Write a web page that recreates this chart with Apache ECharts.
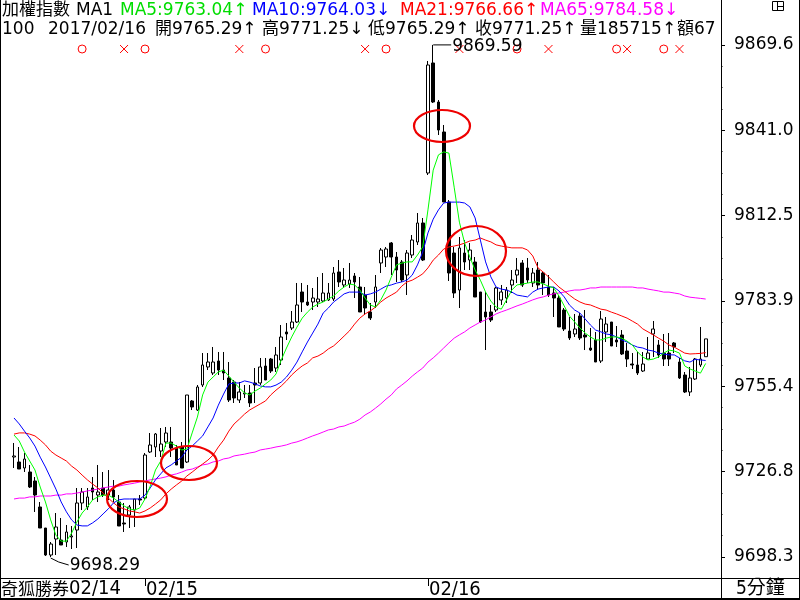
<!DOCTYPE html>
<html><head><meta charset="utf-8">
<script src="https://cdn.jsdelivr.net/npm/echarts@6/dist/echarts.min.js"></script>
<style>html,body{margin:0;padding:0;background:#fff}#c{width:800px;height:600px}</style>
</head><body><div id="c"></div>
<script>
// ---------------- data ----------------
const dayLabels = ['02/14', '02/15', '02/16'];
const dayBarCounts = [25, 54, 54];

const opens = [9731.74,9730.07,9728.06,9726.73,9723.72,9715.02,9707.99,9698.96,9704.31,9703.98,
9703.31,9704.98,9707.32,9716.36,9715.02,9721.37,9719.03,9721.37,9719.03,9720.70,
9716.69,9709.67,9712.34,9714.01,9717.69,9718.03,9733.42,9735.09,9733.75,9736.76,
9736.76,9734.75,9735.09,9730.07,9750.48,9747.46,9755.83,9761.85,9759.84,9763.86,
9760.84,9758.17,9756.83,9750.81,9752.82,9753.15,9756.50,9756.50,9762.18,9764.52,
9761.51,9764.19,9773.56,9774.89,9776.90,9786.94,9783.59,9783.59,9783.59,9783.93,
9784.26,9784.59,9793.63,9789.28,9789.61,9792.29,9788.61,9785.93,9780.25,9783.59,
9796.64,9798.64,9803.33,9798.64,9796.97,9792.62,9799.31,9803.66,9810.02,9826.74,
9863.54,9850.49,9840.46,9817.04,9799.98,9787.60,9799.98,9797.64,9796.97,9786.94,
9780.25,9780.25,9780.91,9784.26,9784.93,9789.28,9792.62,9796.64,9794.96,9789.95,
9794.29,9793.29,9788.61,9786.60,9784.93,9780.91,9773.89,9772.89,9778.91,9772.55,
9768.20,9770.88,9763.86,9773.56,9776.90,9770.88,9772.55,9767.20,9762.85,9762.52,
9760.51,9764.52,9772.89,9769.21,9766.53,9766.53,9769.88,9763.52,9759.17,9753.49,
9757.83,9762.52,9765.29];
const highs = [9736.43,9735.09,9733.08,9729.07,9725.05,9716.69,9707.99,9703.31,9713.01,9711.34,
9709.00,9708.66,9721.37,9721.37,9721.37,9725.05,9729.07,9726.73,9727.39,9724.05,
9719.03,9716.36,9715.69,9717.69,9719.03,9733.08,9739.77,9739.77,9741.44,9741.78,
9741.78,9735.76,9736.76,9752.48,9750.81,9755.83,9766.53,9766.53,9768.54,9766.87,
9766.87,9763.52,9757.50,9756.83,9755.83,9755.83,9761.51,9764.86,9764.86,9764.86,
9768.54,9775.90,9776.57,9780.58,9789.95,9789.95,9789.28,9788.27,9791.95,9793.29,
9789.95,9795.30,9797.64,9794.96,9796.64,9793.29,9791.95,9788.61,9783.26,9792.62,
9801.65,9801.99,9803.66,9800.32,9797.64,9800.98,9806.00,9813.36,9811.69,9864.21,
9869.59,9851.16,9842.80,9817.71,9801.99,9805.33,9804.33,9803.33,9798.64,9786.94,
9786.94,9782.59,9788.61,9789.28,9788.61,9794.29,9798.31,9797.64,9798.31,9794.96,
9796.97,9793.63,9792.62,9788.61,9785.93,9781.58,9778.57,9779.58,9779.91,9780.91,
9774.89,9773.56,9780.58,9778.57,9776.90,9775.56,9774.22,9769.88,9766.53,9766.87,
9766.87,9771.88,9777.24,9770.88,9772.89,9773.22,9770.21,9764.86,9760.18,9761.85,
9764.86,9775.23,9771.25];
const lows = [9728.06,9727.73,9726.73,9721.37,9713.35,9707.99,9698.63,9698.29,9698.96,9702.31,
9701.64,9700.97,9701.30,9714.01,9714.01,9717.36,9716.69,9718.36,9717.36,9716.69,
9708.66,9706.66,9707.99,9708.33,9715.69,9717.36,9733.08,9731.74,9731.74,9735.09,
9731.74,9729.07,9728.06,9729.74,9747.46,9747.13,9755.16,9760.84,9759.17,9759.17,
9757.50,9750.14,9749.81,9749.81,9751.48,9748.47,9749.81,9755.83,9757.50,9759.84,
9760.18,9762.52,9770.88,9774.22,9776.57,9780.25,9782.25,9780.91,9781.92,9783.59,
9783.93,9783.93,9788.61,9788.27,9788.27,9784.93,9780.25,9779.24,9777.57,9781.58,
9793.29,9795.30,9792.62,9790.28,9790.28,9785.93,9798.31,9802.66,9797.30,9826.07,
9850.16,9839.45,9817.04,9790.62,9784.93,9781.58,9794.29,9794.29,9785.26,9776.57,
9767.53,9776.90,9780.25,9782.59,9783.26,9786.60,9789.95,9788.61,9789.95,9788.61,
9787.60,9785.93,9785.26,9778.57,9775.23,9773.89,9770.88,9771.88,9770.88,9767.53,
9767.20,9763.52,9763.19,9770.21,9768.87,9768.54,9765.86,9761.85,9761.18,9759.17,
9760.18,9764.19,9765.19,9764.86,9762.18,9762.18,9766.53,9757.83,9753.15,9752.15,
9757.50,9761.85,9765.29];
const closes = [9732.08,9727.73,9731.07,9721.71,9719.03,9707.99,9698.96,9702.64,9708.33,9702.31,
9706.66,9705.32,9716.36,9720.04,9718.36,9720.04,9720.04,9719.03,9720.70,9718.36,
9708.66,9709.33,9715.02,9717.69,9717.36,9732.41,9735.76,9739.44,9736.09,9739.77,
9734.75,9729.07,9728.06,9752.48,9748.47,9755.16,9762.52,9763.52,9763.52,9760.84,
9759.84,9750.81,9751.48,9753.49,9753.15,9749.81,9755.83,9761.85,9757.50,9760.51,
9765.86,9771.88,9772.89,9776.90,9782.59,9783.59,9782.59,9784.93,9784.59,9786.60,
9786.60,9793.29,9790.28,9790.95,9790.95,9790.28,9780.25,9781.58,9778.24,9788.61,
9800.98,9801.32,9798.64,9794.29,9790.95,9799.98,9804.33,9810.02,9797.64,9862.87,
9850.49,9841.12,9817.04,9793.29,9786.60,9801.65,9796.97,9800.98,9785.26,9776.90,
9778.57,9777.57,9788.27,9786.94,9787.60,9790.95,9794.29,9789.28,9790.95,9793.29,
9789.28,9789.95,9785.93,9784.93,9775.23,9774.56,9771.55,9774.56,9771.55,9771.88,
9767.53,9763.52,9777.90,9776.23,9768.87,9770.21,9766.20,9764.52,9762.52,9759.84,
9762.85,9766.53,9774.56,9765.86,9764.52,9764.52,9768.54,9758.17,9753.49,9758.17,
9764.52,9764.52,9771.25];

const ma5 = [9739.1,9737.1,9733.4,9730.4,9727.4,9721.7,9716.7,9710.7,9705.6,9703.6,
9703.6,9706.3,9710.0,9713.0,9715.0,9717.4,9718.4,9719.0,9719.0,9718.0,
9716.7,9715.4,9714.4,9714.0,9714.7,9717.7,9722.0,9727.4,9730.4,9736.4,
9736.4,9735.4,9734.1,9734.4,9739.8,9745.1,9752.5,9756.8,9758.5,9760.2,
9760.8,9758.8,9756.8,9754.8,9753.2,9752.5,9753.8,9754.8,9756.2,9757.5,
9759.5,9764.2,9768.2,9771.9,9775.2,9778.2,9780.2,9781.9,9782.9,9783.6,
9784.6,9785.6,9787.3,9788.6,9789.6,9789.3,9787.6,9784.9,9782.6,9781.9,
9784.3,9787.6,9791.9,9796.0,9796.6,9797.0,9797.0,9799.3,9802.0,9814.4,
9827.7,9832.8,9833.8,9833.4,9822.0,9810.3,9803.3,9798.6,9794.3,9790.9,
9786.9,9783.9,9781.9,9781.2,9784.3,9787.6,9789.3,9789.6,9789.9,9790.3,
9790.3,9789.6,9788.9,9788.3,9785.6,9782.3,9778.9,9776.9,9774.9,9773.2,
9771.9,9770.9,9770.9,9771.5,9771.9,9771.9,9771.5,9770.5,9769.2,9766.9,
9765.2,9764.2,9764.5,9765.2,9766.5,9767.5,9767.2,9766.5,9762.2,9761.2,
9760.5,9759.8,9763.04];
const ma10 = [9744.8,9742.8,9740.4,9738.1,9735.4,9731.7,9728.4,9724.7,9721.0,9716.7,
9713.4,9710.7,9709.0,9708.7,9708.7,9709.7,9711.0,9712.7,9714.4,9716.4,
9717.4,9717.7,9717.7,9717.7,9717.7,9719.0,9721.4,9724.1,9726.1,9728.1,
9729.1,9730.4,9731.7,9734.1,9735.4,9737.1,9738.8,9741.8,9744.8,9749.1,
9752.8,9756.2,9756.5,9756.5,9757.2,9756.8,9756.2,9755.5,9755.2,9755.2,
9755.8,9756.8,9758.5,9760.8,9763.5,9766.9,9770.2,9773.2,9776.2,9779.9,
9781.6,9783.6,9784.9,9786.3,9786.9,9786.9,9786.9,9785.9,9786.3,9786.9,
9787.9,9788.9,9789.3,9789.9,9790.3,9790.9,9792.6,9796.0,9800.3,9806.7,
9811.3,9814.4,9816.7,9817.0,9817.0,9817.0,9816.7,9815.4,9811.7,9804.3,
9797.0,9792.0,9788.6,9787.9,9787.6,9786.9,9785.9,9785.6,9785.3,9786.9,
9787.9,9788.3,9788.6,9788.6,9787.3,9785.3,9782.6,9780.9,9779.9,9777.9,
9775.9,9774.2,9773.6,9772.9,9772.6,9771.9,9770.9,9770.2,9769.2,9768.5,
9768.2,9767.5,9767.2,9766.5,9766.2,9765.9,9765.9,9764.9,9763.9,9763.5,
9764.4,9764.2,9764.03];
const ma21 = [9739.4,9739.8,9739.8,9739.4,9738.8,9737.4,9735.8,9733.7,9732.4,9731.4,
9730.4,9728.7,9727.4,9725.7,9724.1,9722.7,9721.4,9719.7,9718.0,9716.4,
9715.0,9714.4,9713.7,9713.4,9713.0,9713.7,9714.7,9716.0,9717.4,9719.4,
9721.0,9722.4,9723.7,9725.4,9726.7,9728.1,9729.4,9730.7,9732.4,9735.1,
9737.4,9740.4,9742.8,9744.4,9746.1,9747.5,9748.5,9749.5,9750.5,9752.5,
9754.1,9755.5,9757.2,9759.2,9760.8,9762.2,9763.2,9764.9,9765.5,9766.5,
9767.9,9768.9,9770.5,9772.2,9773.9,9776.2,9778.2,9779.6,9780.6,9781.9,
9783.6,9784.9,9785.9,9786.9,9788.9,9790.3,9790.9,9791.9,9793.0,9795.0,
9797.6,9799.3,9801.3,9802.0,9802.3,9802.7,9803.3,9804.0,9804.3,9805.0,
9804.3,9803.7,9802.7,9802.3,9802.0,9801.7,9801.7,9801.7,9801.0,9799.0,
9795.0,9793.6,9792.0,9790.3,9788.6,9787.3,9785.9,9784.6,9783.6,9782.9,
9782.6,9781.9,9781.2,9780.9,9780.2,9779.6,9778.9,9778.2,9777.2,9776.2,
9774.6,9773.6,9772.6,9771.5,9770.5,9769.2,9768.5,9767.5,9766.5,9766.2,
9766.3,9766.4,9766.66];
const ma65 = [9717.7,9718.0,9718.0,9718.4,9718.4,9718.7,9718.7,9718.7,9719.0,9719.0,
9719.4,9719.4,9719.7,9720.0,9720.4,9720.7,9721.0,9721.4,9721.7,9722.0,
9722.0,9722.4,9722.7,9723.0,9723.4,9723.7,9724.1,9724.4,9724.7,9725.1,
9725.7,9726.1,9726.7,9727.4,9727.7,9728.4,9729.1,9729.4,9730.1,9730.4,
9731.1,9731.4,9732.1,9732.4,9732.7,9733.1,9733.4,9734.1,9734.4,9734.7,
9735.1,9735.4,9735.8,9736.4,9736.8,9737.4,9738.1,9738.8,9739.4,9740.1,
9740.8,9741.1,9741.8,9742.1,9742.8,9743.4,9744.4,9745.8,9746.8,9748.1,
9749.5,9751.1,9752.5,9754.5,9755.8,9757.2,9758.8,9760.2,9761.5,9763.5,
9764.9,9766.5,9768.2,9769.9,9771.5,9772.6,9773.6,9774.9,9775.9,9776.9,
9777.6,9778.6,9779.6,9780.3,9780.9,9781.6,9782.3,9782.9,9783.6,9784.3,
9784.9,9785.3,9785.9,9786.3,9786.6,9786.9,9787.3,9787.6,9787.6,9787.9,
9788.3,9788.3,9788.6,9788.6,9788.6,9788.6,9788.6,9788.6,9788.6,9788.3,
9788.3,9787.9,9787.6,9787.3,9786.9,9786.9,9786.6,9786.3,9785.6,9785.2,
9785.0,9784.8,9784.58];

const yTickValues = [9698.29, 9726.84, 9755.39, 9783.94, 9812.49, 9841.04, 9869.59];
const signalCircle = [13, 25, 48, 71, 96, 115, 124];
const signalCross = [21, 43, 67, 85, 102, 117, 127];
const headerTitle = '加權指數';
const headerPeriod = 'MA1';
const headerCount = '100';
const headerDate = '2017/02/16';
const headerVolume = '185715';
const headerAmount = '67';
const brokerLabel = '奇狐勝券';
const periodLabel = '5分鐘';

// ---------------- build ----------------
const categories = [];
const dayStarts = [];
dayLabels.forEach((d, k) => {
  dayStarts.push(categories.length);
  for (let j = 0; j < dayBarCounts[k]; j++) categories.push(d + '#' + (j + 1));
});
const N = categories.length;
const candle = opens.map((o, i) => [o, closes[i], lows[i], highs[i]]);

const BW = 5.24, LEFT = 11.38, AXIS_X = 721, PLOT_BOTTOM = 578;
const TOP_VAL = 9884.61, BOT_VAL = 9691.27;
const gridWidth = N * BW;
const yOff = AXIS_X - (LEFT + gridWidth);

const minor = [];
for (let k = 0; k < yTickValues.length - 1; k++) {
  const s = (yTickValues[k + 1] - yTickValues[k]) / 4;
  for (let m = 1; m < 4; m++) minor.push(yTickValues[k] + s * m);
}

const FONT = '"DejaVu Sans", "Noto Sans CJK TC", sans-serif';
const GREEN = '#00ff00', BLUE = '#0000ff', RED = '#ff0000', MAG = '#ff00ff';

const chart = echarts.init(document.getElementById('c'), null, {renderer: 'canvas'});
const labelIdx = (i) => i === dayStarts[1] || i === dayStarts[2];

chart.setOption({
  animation: false,
  backgroundColor: '#fff',
  grid: {left: LEFT, top: 0, width: gridWidth, height: PLOT_BOTTOM, outerBoundsMode: 'none', containLabel: false},
  xAxis: {
    type: 'category', data: categories, boundaryGap: true,
    axisLine: {show: false},
    axisTick: {show: true, alignWithLabel: true, interval: (i) => labelIdx(i), length: 8, lineStyle: {color: '#000', width: 1}},
    axisLabel: {
      interval: (i) => labelIdx(i), formatter: (v) => v.split('#')[0],
      align: 'left', margin: 2, padding: [0, 0, 0, 1],
      color: '#000', fontSize: 20, fontFamily: '"DejaVu Sans Condensed", "DejaVu Sans"'
    },
    splitLine: {show: false}
  },
  yAxis: [{
    type: 'value', position: 'right', offset: yOff, min: BOT_VAL, max: TOP_VAL, scale: true,
    axisLine: {show: false}, splitLine: {show: false},
    axisTick: {show: true, customValues: yTickValues, length: 4, lineStyle: {color: '#000'}},
    axisLabel: {customValues: yTickValues, formatter: (v) => v.toFixed(1), margin: 13,
      color: '#000', fontSize: 17, fontFamily: '"DejaVu Sans"'}
  }, {
    type: 'value', position: 'right', offset: yOff, min: BOT_VAL, max: TOP_VAL, scale: true,
    axisLine: {show: false}, splitLine: {show: false},
    axisTick: {show: true, customValues: minor, length: 1.5, lineStyle: {color: '#000'}},
    axisLabel: {show: false}
  }],
  series: [
    {type: 'candlestick', data: candle, barWidth: 3.2,
      itemStyle: {color: '#fff', color0: '#000', borderColor: '#000', borderColor0: '#000', borderColorDoji: '#000', borderWidth: 1}},
    {type: 'line', data: ma65, showSymbol: false, symbol: 'none', lineStyle: {color: MAG, width: 1}},
    {type: 'line', data: ma21, showSymbol: false, symbol: 'none', lineStyle: {color: RED, width: 1}},
    {type: 'line', data: ma10, showSymbol: false, symbol: 'none', lineStyle: {color: BLUE, width: 1}},
    {type: 'line', data: ma5, showSymbol: false, symbol: 'none', lineStyle: {color: GREEN, width: 1}}
  ]
});

// ---------------- annotations ----------------
const px = (i, v) => chart.convertToPixel({seriesIndex: 0}, [i, v]);
const L = N - 1;
const arr = (a) => a[L] >= a[L - 1] ? '↑' : '↓';
const f2 = (v) => v.toFixed(2);
const g = [];
const txt = (t, x, y, color, font, extra) => g.push(Object.assign({type: 'text', x, y, z: 100,
  style: {text: t, fill: color, font: font || ('17px ' + FONT), verticalAlign: 'middle', align: 'left'}}, extra || {}));
const line = (pts, color, w) => g.push({type: 'polyline', z: 90, shape: {points: pts}, style: {stroke: color, lineWidth: w || 1, fill: null}});

// header
txt(headerTitle, 2, 11, '#000');
txt(headerPeriod, 76, 11, '#000');
txt('MA5:' + f2(ma5[L]) + arr(ma5), 120, 11, '#00dd00');
txt('MA10:' + f2(ma10[L]) + arr(ma10), 252, 11, BLUE);
txt('MA21:' + f2(ma21[L]) + arr(ma21), 400, 11, RED);
txt('MA65:' + f2(ma65[L]) + arr(ma65), 540, 11, MAG);
txt(headerCount, 2, 30, '#000');
txt(headerDate, 48, 30, '#000');
txt('開' + f2(opens[L]) + arr(opens), 155, 30, '#000');
txt('高' + f2(highs[L]) + arr(highs), 262, 30, '#000');
txt('低' + f2(lows[L]) + arr(lows), 368, 30, '#000');
txt('收' + f2(closes[L]) + arr(closes), 475, 30, '#000');
txt('量' + headerVolume + '↑', 580, 30, '#000');
txt('額' + headerAmount, 677, 30, '#000');

// signals
signalCircle.forEach((i) => {
  const x = px(i, yTickValues[0])[0];
  g.push({type: 'circle', z: 95, shape: {cx: x, cy: 49, r: 4}, style: {fill: null, stroke: RED, lineWidth: 1}});
});
signalCross.forEach((i) => {
  const x = px(i, yTickValues[0])[0];
  line([[x - 4, 45], [x + 4, 53]], RED, 1);
  line([[x - 4, 53], [x + 4, 45]], RED, 1);
});

// max / min labels
const maxV = Math.max(...highs), maxI = highs.indexOf(maxV);
const minV = Math.min(...lows), minI = lows.indexOf(minV);
const pMax = px(maxI, maxV), pMin = px(minI, minV);
line([[pMax[0], pMax[1]], [pMax[0] + 18, pMax[1]]], '#000', 1);
txt(f2(maxV), pMax[0] + 19, pMax[1] + 2, '#000');
line([[pMin[0], pMin[1] + 1], [pMin[0] + 8, pMin[1] + 5], [pMin[0] + 18, pMin[1] + 8]], '#000', 1);
txt(f2(minV), pMin[0] + 19, pMin[1] + 9, '#000');

// red ellipses
[[137, 499, 30, 18], [189, 463, 28, 17], [442, 126, 28, 16], [476, 251, 30, 25]].forEach(([cx, cy, rx, ry]) => {
  g.push({type: 'ellipse', z: 96, shape: {cx, cy, rx, ry}, style: {fill: null, stroke: '#ee0000', lineWidth: 2.2}});
});

// frame
line([[0.5, 0], [0.5, 600]], '#000', 1);
line([[799.5, 0], [799.5, 600]], '#000', 1);
line([[0, 599], [800, 599]], '#000', 2);
line([[0, 578.5], [800, 578.5]], '#000', 1);
line([[AXIS_X + 0.5, 0], [AXIS_X + 0.5, 600]], '#000', 1);

// bottom strip
txt(brokerLabel, 1, 589, '#000', '17px "Noto Sans CJK TC"');
txt(dayLabels[0], 69, 589, '#000', '20px "DejaVu Sans Condensed", "DejaVu Sans"');
txt(periodLabel, 736, 589, '#000', '19px "DejaVu Sans Condensed", "Noto Sans CJK TC"');

// top-right icon
g.push({type: 'rect', z: 100, shape: {x: 772.5, y: 1.5, width: 11, height: 9}, style: {fill: null, stroke: '#000', lineWidth: 1}});
line([[777.5, 1.5], [777.5, 10.5]], '#000', 1);
line([[777.5, 6.5], [783.5, 6.5]], '#000', 1);

chart.setOption({graphic: g});
</script>
</body></html>
